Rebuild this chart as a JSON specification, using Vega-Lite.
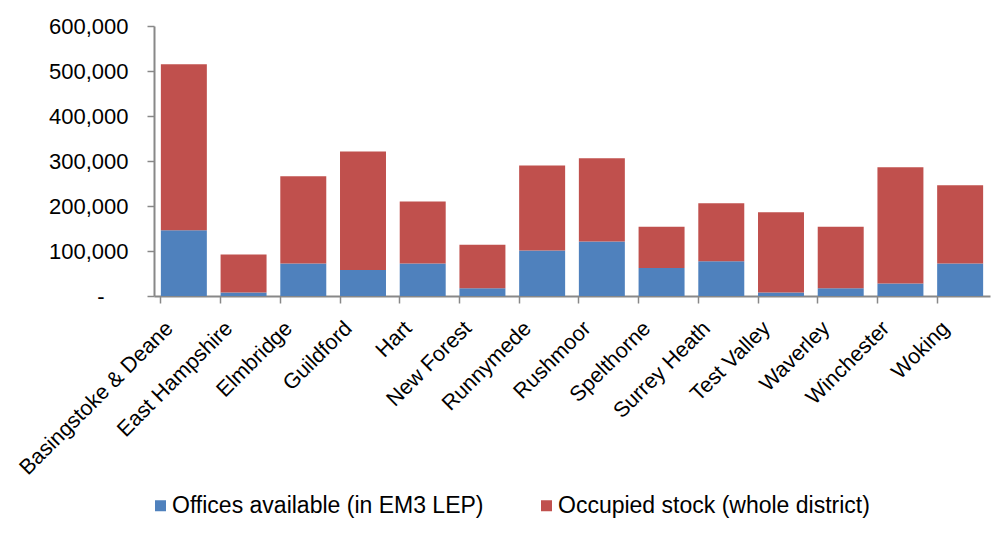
{
  "$schema": "https://vega.github.io/schema/vega-lite/v6.json",
  "width": 836,
  "height": 270,
  "autosize": {"type": "none"},
  "padding": {"left": 154, "top": 26, "right": 3, "bottom": 253},
  "background": "white",
  "config": {
    "view": {"stroke": null},
    "font": "Liberation Sans"
  },
  "data": {
    "values": [
      {"district": "Basingstoke & Deane", "order": 1, "series": "Offices available (in EM3 LEP)", "value": 146000},
      {"district": "Basingstoke & Deane", "order": 1, "series": "Occupied stock (whole district)", "value": 369000},
      {"district": "East Hampshire", "order": 2, "series": "Offices available (in EM3 LEP)", "value": 8000},
      {"district": "East Hampshire", "order": 2, "series": "Occupied stock (whole district)", "value": 84000},
      {"district": "Elmbridge", "order": 3, "series": "Offices available (in EM3 LEP)", "value": 72000},
      {"district": "Elmbridge", "order": 3, "series": "Occupied stock (whole district)", "value": 194000},
      {"district": "Guildford", "order": 4, "series": "Offices available (in EM3 LEP)", "value": 58000},
      {"district": "Guildford", "order": 4, "series": "Occupied stock (whole district)", "value": 263000},
      {"district": "Hart", "order": 5, "series": "Offices available (in EM3 LEP)", "value": 72000},
      {"district": "Hart", "order": 5, "series": "Occupied stock (whole district)", "value": 138000},
      {"district": "New Forest", "order": 6, "series": "Offices available (in EM3 LEP)", "value": 17000},
      {"district": "New Forest", "order": 6, "series": "Occupied stock (whole district)", "value": 97000},
      {"district": "Runnymede", "order": 7, "series": "Offices available (in EM3 LEP)", "value": 101000},
      {"district": "Runnymede", "order": 7, "series": "Occupied stock (whole district)", "value": 189000},
      {"district": "Rushmoor", "order": 8, "series": "Offices available (in EM3 LEP)", "value": 121000},
      {"district": "Rushmoor", "order": 8, "series": "Occupied stock (whole district)", "value": 185000},
      {"district": "Spelthorne", "order": 9, "series": "Offices available (in EM3 LEP)", "value": 62000},
      {"district": "Spelthorne", "order": 9, "series": "Occupied stock (whole district)", "value": 92000},
      {"district": "Surrey Heath", "order": 10, "series": "Offices available (in EM3 LEP)", "value": 77000},
      {"district": "Surrey Heath", "order": 10, "series": "Occupied stock (whole district)", "value": 129000},
      {"district": "Test Valley", "order": 11, "series": "Offices available (in EM3 LEP)", "value": 8000},
      {"district": "Test Valley", "order": 11, "series": "Occupied stock (whole district)", "value": 178000},
      {"district": "Waverley", "order": 12, "series": "Offices available (in EM3 LEP)", "value": 17000},
      {"district": "Waverley", "order": 12, "series": "Occupied stock (whole district)", "value": 137000},
      {"district": "Winchester", "order": 13, "series": "Offices available (in EM3 LEP)", "value": 28000},
      {"district": "Winchester", "order": 13, "series": "Occupied stock (whole district)", "value": 258000},
      {"district": "Woking", "order": 14, "series": "Offices available (in EM3 LEP)", "value": 72000},
      {"district": "Woking", "order": 14, "series": "Occupied stock (whole district)", "value": 174000}
    ]
  },
  "mark": {"type": "bar"},
  "encoding": {
    "x": {
      "field": "district",
      "type": "nominal",
      "sort": {"field": "order"},
      "title": null,
      "scale": {"paddingInner": 0.23, "paddingOuter": 0.115},
      "axis": {
        "labelAngle": -45,
        "labelAlign": "right",
        "labelBaseline": "middle",
        "labelFontSize": 21.5,
        "labelColor": "black",
        "labelPadding": 22,
        "labelOffset": -14,
        "bandPosition": 0,
        "tickSize": 7,
        "tickColor": "#888888",
        "tickWidth": 1.5,
        "domainColor": "#888888",
        "domainWidth": 2,
        "labelLimit": 400
      }
    },
    "y": {
      "field": "value",
      "type": "quantitative",
      "stack": "zero",
      "title": null,
      "scale": {"domain": [0, 600000], "nice": false},
      "axis": {
        "values": [0, 100000, 200000, 300000, 400000, 500000, 600000],
        "labelExpr": "datum.value == 0 ? '-' : format(datum.value, ',')",
        "labelFontSize": 22,
        "labelColor": "black",
        "labelPadding": {"condition": {"test": "datum.value == 0", "value": 43}, "value": 19},
        "tickSize": 7,
        "tickColor": "#888888",
        "tickWidth": 1.5,
        "domainColor": "#888888",
        "domainWidth": 2,
        "grid": false
      }
    },
    "color": {
      "field": "series",
      "type": "nominal",
      "sort": ["Offices available (in EM3 LEP)", "Occupied stock (whole district)"],
      "scale": {
        "domain": ["Offices available (in EM3 LEP)", "Occupied stock (whole district)"],
        "range": ["#4F81BD", "#C0504D"]
      },
      "legend": {
        "title": null,
        "orient": "none",
        "direction": "horizontal",
        "legendX": -5,
        "legendY": 468,
        "symbolType": "square",
        "symbolSize": 121,
        "symbolStrokeWidth": 0,
        "labelFontSize": 23,
        "labelColor": "black",
        "labelOffset": 0,
        "columnPadding": 51,
        "labelLimit": 400
      }
    },
    "order": {"field": "series", "sort": "descending"}
  }
}
